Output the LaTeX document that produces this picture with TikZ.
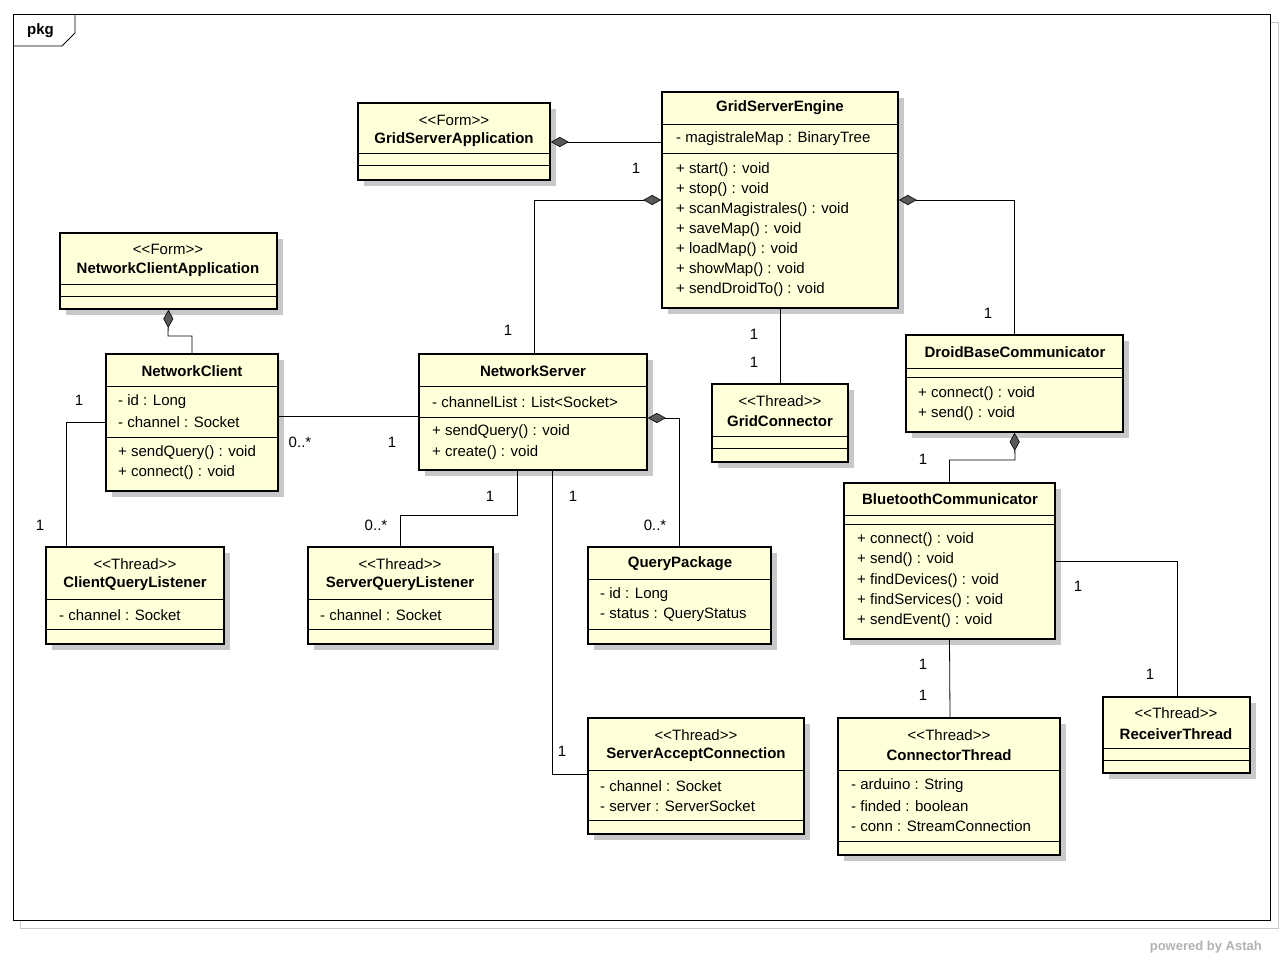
\documentclass[tikz,border=0pt]{standalone}
\usepackage{fontspec}
\setmainfont[Ligatures=NoCommon]{Liberation Sans}
\usetikzlibrary{arrows.meta}
\definecolor{fillc}{RGB}{255,255,218}
\definecolor{shad}{RGB}{200,200,200}
\newcommand\ubox[5]{%
  \fill[shad] (#2+6,#3+6) rectangle (#4+6,#5+6);
  \node[cls,minimum width={#4-#2},minimum height={#5-#3}] (#1) at ({(#2+#4)/2},{(#3+#5)/2}) {};}
\newcommand\sep[3]{\draw[line width=0.8pt] (#1,#3) -- (#2,#3);}
\newcommand\lt{<\kern0pt<}
\newcommand\gt{>\kern0pt>}
\begin{document}
\begin{tikzpicture}[x=1pt,y=-1pt,
  cls/.style={draw,line width=1.6pt,fill=fillc,inner sep=0pt},
  nm/.style={font=\fontsize{15}{17}\selectfont\bfseries,inner sep=0pt},
  st/.style={font=\fontsize{15}{17}\selectfont,inner sep=0pt},
  tx/.style={font=\fontsize{15}{17}\selectfont,inner sep=0pt,anchor=west},
  lb/.style={font=\fontsize{15}{17}\selectfont,inner sep=0pt},
  con/.style={line width=0.8pt},
  dia/.style={con,{Diamond[length=18pt,width=10pt,fill=black!65,line width=0.6pt]}-}]
\useasboundingbox (0,0) rectangle (1284,960);
\fill[white] (0,0) rectangle (1284,960);
% frame
\draw[shad] (20,22) rectangle (1278,928);
\draw[line width=0.8pt,fill=white] (13,14) rectangle (1270,920);
\draw[line width=0.8pt] (13,46) -- (62,46) -- (75,33) -- (75,14);
\node[nm,anchor=west] (pkg) at (27,31) {pkg};
% classes
\ubox{gsa}{358}{103}{550}{180}
\node[st] (gsas) at (454,120) {\lt Form\gt};
\node[nm] (gsan) at (454,140) {GridServerApplication};
\sep{358}{550}{153}\sep{358}{550}{165}

\ubox{gse}{662}{92}{898}{308}
\node[nm] (gsen) at (780,108) {GridServerEngine};
\sep{662}{898}{124}
\node[tx] (a1) at (676,139) {- magistraleMap : BinaryTree};
\sep{662}{898}{153}
\node[tx] (o1) at (676,170) {+ start() : void};
\node[tx] (o2) at (676,190) {+ stop() : void};
\node[tx] (o3) at (676,210) {+ scanMagistrales() : void};
\node[tx] (o4) at (676,230) {+ saveMap() : void};
\node[tx] (o5) at (676,250) {+ loadMap() : void};
\node[tx] (o6) at (676,270) {+ showMap() : void};
\node[tx] (o7) at (676,290) {+ sendDroidTo() : void};

\ubox{nca}{60}{233}{277}{309}
\node[st] (ncas) at (168,249) {\lt Form\gt};
\node[nm] (ncan) at (168,270) {NetworkClientApplication};
\sep{60}{277}{284}\sep{60}{277}{296}

\ubox{nc}{106}{354}{278}{491}
\node[nm] (ncn) at (192,371) {NetworkClient};
\sep{106}{278}{386}
\node[tx] (nc1) at (118,402) {- id : Long};
\node[tx] (nc2) at (118,422) {- channel : Socket};
\sep{106}{278}{437}
\node[tx] (nc3) at (118,453) {+ sendQuery() : void};
\node[tx] (nc4) at (118,473) {+ connect() : void};

\ubox{ns}{419}{354}{647}{470}
\node[nm] (nsn) at (533,371) {NetworkServer};
\sep{419}{647}{386}
\node[tx] (ns1) at (432,402) {- channelList : List<Socket>};
\sep{419}{647}{417}
\node[tx] (ns2) at (432,432) {+ sendQuery() : void};
\node[tx] (ns3) at (432,453) {+ create() : void};

\ubox{gc}{712}{384}{848}{462}
\node[st] (gcs) at (780,401) {\lt Thread\gt};
\node[nm] (gcn) at (780,421) {GridConnector};
\sep{712}{848}{436}\sep{712}{848}{448}

\ubox{dbc}{906}{335}{1123}{432}
\node[nm] (dbcn) at (1015,352) {DroidBaseCommunicator};
\sep{906}{1123}{368}\sep{906}{1123}{377}
\node[tx] (d1) at (918,394) {+ connect() : void};
\node[tx] (d2) at (918,414) {+ send() : void};

\ubox{bc}{844}{483}{1055}{639}
\node[nm] (bcn) at (950,499) {BluetoothCommunicator};
\sep{844}{1055}{515}\sep{844}{1055}{524}
\node[tx] (b1) at (857,540) {+ connect() : void};
\node[tx] (b2) at (857,560) {+ send() : void};
\node[tx] (b3) at (857,581) {+ findDevices() : void};
\node[tx] (b4) at (857,601) {+ findServices() : void};
\node[tx] (b5) at (857,621) {+ sendEvent() : void};

\ubox{cql}{46}{547}{224}{644}
\node[st] (cqls) at (135,564) {\lt Thread\gt};
\node[nm] (cqln) at (135,584) {ClientQueryListener};
\sep{46}{224}{599}
\node[tx] (cq1) at (59,615) {- channel : Socket};
\sep{46}{224}{629}

\ubox{sql}{308}{547}{493}{644}
\node[st] (sqls) at (400,564) {\lt Thread\gt};
\node[nm] (sqln) at (400,584) {ServerQueryListener};
\sep{308}{493}{599}
\node[tx] (sq1) at (320,615) {- channel : Socket};
\sep{308}{493}{629}

\ubox{qp}{588}{547}{771}{644}
\node[nm] (qpn) at (680,564) {QueryPackage};
\sep{588}{771}{579}
\node[tx] (q1) at (600,595) {- id : Long};
\node[tx] (q2) at (600,615) {- status : QueryStatus};
\sep{588}{771}{629}

\ubox{sac}{588}{718}{804}{834}
\node[st] (sacs) at (696,735) {\lt Thread\gt};
\node[nm] (sacn) at (696,755) {ServerAcceptConnection};
\sep{588}{804}{770}
\node[tx] (s1) at (600,786) {- channel : Socket};
\node[tx] (s2) at (600,806) {- server : ServerSocket};
\sep{588}{804}{820}

\ubox{ct}{838}{718}{1060}{855}
\node[st] (cts) at (949,735) {\lt Thread\gt};
\node[nm] (ctn) at (949,755) {ConnectorThread};
\sep{838}{1060}{770}
\node[tx] (c1) at (851,786) {- arduino : String};
\node[tx] (c2) at (851,806) {- finded : boolean};
\node[tx] (c3) at (851,826) {- conn : StreamConnection};
\sep{838}{1060}{841}

\ubox{rt}{1103}{697}{1250}{773}
\node[st] (rts) at (1176,713) {\lt Thread\gt};
\node[nm] (rtn) at (1176,734) {ReceiverThread};
\sep{1103}{1250}{748}\sep{1103}{1250}{760}

% connectors
\draw[dia] (gsa.east |- 0,142) -- (gse.west |- 0,142);
\draw[dia] (gse.west |- 0,200) -| (ns.north -| 534,0);
\draw[dia] (gse.east |- 0,200) -| (dbc.north);
\draw[con] (gse.south) -- (gc.north);
\draw[dia] (nca.south) -- (168,336) -| (nc.north);
\draw[con] (nc.east |- 0,416) -- (ns.west |- 0,416);
\draw[con] (nc.west |- 0,422) -| (cql.north -| 66,0);
\draw[con] (ns.south -| 517,0) -- (517,515) -| (sql.north);
\draw[dia] (ns.east |- 0,418) -| (qp.north);
\draw[con] (ns.south -| 552,0) |- (sac.west |- 0,774);
\draw[dia] (dbc.south) -- (1015,460) -| (bc.north);
\draw[con] (bc.south) -- (ct.north -| 950,0);
\draw[con] (bc.east |- 0,561) -| (rt.north -| 1177,0);

% multiplicities
\node[lb] (m1) at (636,168) {1};
\node[lb] (m2) at (508,330) {1};
\node[lb] (m3) at (988,313) {1};
\node[lb] (m4) at (754,334) {1};
\node[lb] (m5) at (754,362) {1};
\node[lb] (m6) at (300,442) {0..*};
\node[lb] (m7) at (392,442) {1};
\node[lb] (m8) at (79,400) {1};
\node[lb] (m9) at (40,525) {1};
\node[lb] (m10) at (490,496) {1};
\node[lb] (m11) at (376,525) {0..*};
\node[lb] (m12) at (655,525) {0..*};
\node[lb] (m13) at (573,496) {1};
\node[lb] (m14) at (562,751) {1};
\node[lb] (m15) at (923,459) {1};
\node[lb] (m16) at (923,664) {1};
\node[lb] (m17) at (923,695) {1};
\node[lb] (m18) at (1078,586) {1};
\node[lb] (m19) at (1150,674) {1};

\node[font=\fontsize{13}{15}\selectfont\bfseries,text=black!30,anchor=east,inner sep=0pt] (pw) at (1262,947) {powered by Astah};
\end{tikzpicture}
\end{document}
